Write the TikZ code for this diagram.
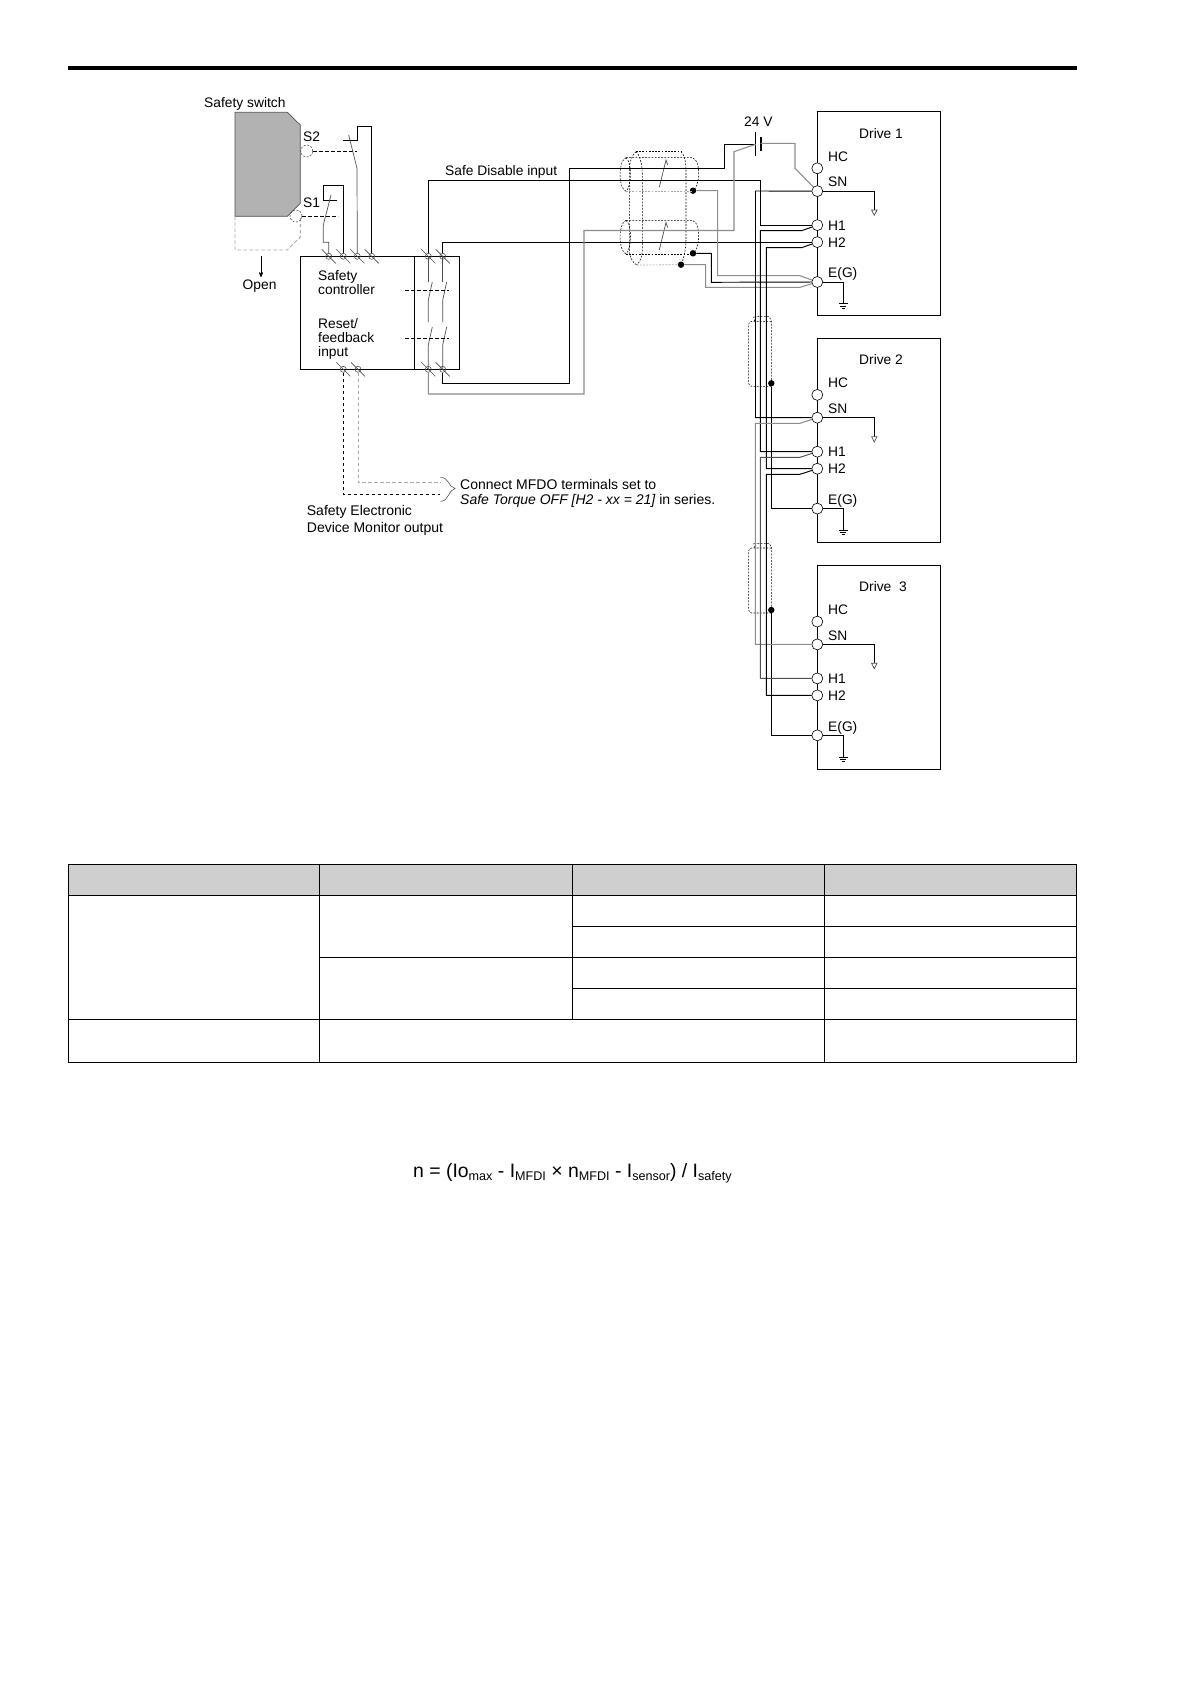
\documentclass[tikz,border=0pt]{standalone}
\usepackage{fontspec}
\setmainfont{Liberation Sans}
\usepackage{xcolor}
\usepackage{tikz}
\usetikzlibrary{arrows,arrows.meta}
\usetikzlibrary{positioning}
\usetikzlibrary{calc}
\definecolor{wiregray}{HTML}{8C8C8C}
\definecolor{darkgray}{HTML}{505050}
\definecolor{dashgray}{HTML}{A8A8A8}
\definecolor{switchgray}{HTML}{B2B2B2}
\definecolor{headgray}{HTML}{CFCFCF}
\newcommand{\lowsub}[1]{\raisebox{-2.8pt}{\fontsize{12.6}{13}\selectfont #1}}
\tikzset{
  lab/.style = {anchor=base west, inner sep=0pt, font=\fontsize{13.8}{16}\selectfont},
  wire/.style = {draw=black, line width=0.95pt},% black wire
  gwire/.style = {draw=wiregray, line width=1.05pt},% gray wire
  dwire/.style = {draw=darkgray, line width=0.95pt},
  blade/.style = {draw=darkgray, line width=0.7pt},% switch blade
  ctrl/.style = {draw=black, line width=0.8pt, dash pattern=on 3.6pt off 2.4pt},
  gctrl/.style = {draw=dashgray, line width=0.9pt, dash pattern=on 3.6pt off 2.4pt},
  shield/.style = {draw=black, line width=0.55pt, dash pattern=on 1.8pt off 1.4pt},
  gshield/.style = {draw=dashgray, line width=0.7pt, dash pattern=on 1.8pt off 1.4pt},
  term/.style = {circle, draw=darkgray, line width=0.6pt, inner sep=0pt, minimum size=6pt},
  dterm/.style = {circle, draw=black, fill=white, line width=0.6pt, inner sep=0pt, minimum size=11pt},
  bigdot/.style = {circle, fill=black, inner sep=0pt, minimum size=6.4pt},
  boxline/.style = {draw=black, line width=1pt},
  tline/.style = {draw=black, line width=0.9pt}
}

\begin{document}
\begin{tikzpicture}[x=1pt,y=-1pt,>=stealth']
\useasboundingbox (0,0) rectangle (1191,1684);
\fill[white] (0,0) rectangle (1191,1684);
\draw[line width=4.3pt] (68,68) -- (1077,68);

% safety switch
\filldraw[fill=switchgray,draw=darkgray,line width=0.7pt] (235,112.3) -- (287.3,112.3) -- (300.3,125) -- (300.3,203.3) -- (287.3,216.3) -- (235,216.3) -- cycle;
\draw[gctrl] (235,216.3) -- (235,250) -- (287.3,250) -- (300.3,237) -- (300.3,216.3);
\node[lab] (sw) at (204,107) {Safety switch};
\node[lab] (s2) at (303,141.5) {S2};
\node[lab] (s1) at (303,207.5) {S1};
\node[circle,draw=darkgray,line width=0.6pt,dash pattern=on 2pt off 1.5pt,inner sep=0pt,minimum size=12pt] (c2) at (306.7,151) {};
\node[circle,draw=darkgray,line width=0.6pt,dash pattern=on 2pt off 1.5pt,inner sep=0pt,minimum size=12pt] (c1) at (296,216) {};
\coordinate (k2) at (356.7,151);
\coordinate (k1) at (338.3,216);
\draw[ctrl] (c2) -- (k2);
\draw[ctrl] (c1) -- (k1);
\coordinate (A) at (261,256);
\coordinate (AA) at (261,277);
\draw[->,line width=0.7pt] (A) -- (AA);
\node[lab] (op) at (242.5,289) {Open};

% safety controller
\draw[boxline] (300.3,256.3) rectangle (459.3,369.3);
\draw[boxline] (414.7,256.3) -- (414.7,369.3);
\node[lab] at (318,280.5) {Safety};
\node[lab] at (318,294) {controller};
\node[lab] at (318,328) {Reset/};
\node[lab] at (318,342) {feedback};
\node[lab] at (318,356.5) {input};

\node[term] (ta) at (328.7,256.3) {};
\node[term] (tb) at (343.3,256.3) {};
\node[term] (tc) at (357.3,256.3) {};
\node[term] (td) at (371.7,256.3) {};
\node[term] (te) at (428.3,256.3) {};
\node[term] (tf) at (442.7,256.3) {};
\node[term] (tg) at (428.3,369.3) {};
\node[term] (th) at (442.7,369.3) {};
\node[term] (ti) at (343.3,369.3) {};
\node[term] (tj) at (358,369.3) {};
\foreach \t in {ta,tb,tc,td,te,tf,tg,th,ti,tj}
  \draw[blade] ([shift={(-7,-7)}]\t.center) -- ([shift={(7,7)}]\t.center);

% switches S1 and S2
\draw[wire] (tb) |- (323.7,185.7) -- (323.7,200) -- (337.3,200);
\draw[blade] (331,195) -- (323.3,225) -- (323.3,242.3) -- (328.7,242.3) -- (ta);
\draw[wire] (td) |- (357.7,126.7) -- (357.7,140.3) -- (342.7,140.3);
\draw[blade] (348.7,135) -- (357,168.3) -- (tc);

% contacts
\foreach \x in {428.3,442.7} {
  \draw[blade] (\x,256.3) -- (\x,281.5);
  \draw[blade] (\x+4,282) -- (\x,300) -- (\x,322);
  \draw[blade] (\x+4,327) -- (\x,345) -- (\x,369.3);
}
\coordinate (m1) at (405,290.3);
\coordinate (m2) at (449.3,290.3);
\coordinate (m3) at (405,338.3);
\coordinate (m4) at (449.3,338.3);
\draw[ctrl,line width=0.7pt] (m1) -- (m2);
\draw[ctrl,line width=0.7pt] (m3) -- (m4);
\node[lab] (sdi) at (445,175.5) {Safe Disable input};

% MFDO wires
\coordinate (b1) at (440,494.3);
\coordinate (b2) at (440,482.7);
\draw[ctrl] (ti) |- (b1);
\draw[gctrl] (tj) |- (b2);
\draw[darkgray,line width=0.6pt] (440.5,477.5) .. controls (449,477) and (448,487) .. (455,488.5) .. controls (448,490) and (449,501.5) .. (440.5,501.3);
\node[lab,font=\fontsize{14}{16}\selectfont] (n1) at (460,489.3) {Connect MFDO terminals set to};
\node[lab,font=\fontsize{14}{16}\selectfont] (n2) at (460,504) {\itshape Safe Torque OFF [H2 - xx = 21]\upshape{} in series.};
\node[lab,font=\fontsize{14}{16}\selectfont] (n3) at (306.7,515.5) {Safety Electronic};
\node[lab,font=\fontsize{14}{16}\selectfont] (n4) at (306.7,532.3) {Device Monitor output};

% drives
\foreach \d/\ytop/\name in {1/111.7/Drive 1,2/338.3/Drive 2,3/565/Drive\ \ 3} {
\begin{scope}[shift={(0,\ytop)}]
  \draw[boxline] (817.3,0) rectangle (940.3,204);
  \node[dterm] (hc\d) at (817.3,56.6) {};
  \node[dterm] (sn\d) at (817.3,79.4) {};
  \node[dterm] (ho\d) at (817.3,113.4) {};
  \node[dterm] (ht\d) at (817.3,130.4) {};
  \node[dterm] (eg\d) at (817.3,170.3) {};
  \node[lab] (dn\d) at (859,26.3) {\name};
  \node[lab] at (828,49.3) {HC};
  \node[lab] at (828,75) {SN};
  \node[lab] at (828,118.3) {H1};
  \node[lab] at (828,135.3) {H2};
  \node[lab] at (828,166) {E(G)};
  \coordinate (gs\d) at (874.3,98.3);
  \coordinate (ge\d) at (843.3,192);
  \draw[wire] (sn\d) -| (gs\d);
  \draw[wire] (eg\d) -| (ge\d);
  \draw[blade] (gs\d) ++(-2.7,0) -- ++(5.4,0) -- ++(-2.7,5.3) -- cycle;
  \draw[wire,line width=0.7pt] (ge\d) ++(-4.5,0) -- ++(9,0) ++(-7.5,2.2) -- ++(6,0) ++(-4.5,2.2) -- ++(3,0);
\end{scope}
}

% shields at drives 2 and 3
\foreach \d/\ytop in {2/338.3,3/565} {
\begin{scope}[shift={(0,\ytop)}]
  \node[bigdot] (dr\d) at (771.3,45) {};
  \draw[shield] (dr\d) -- (771.3,-18) -- (769,-21.6) -- (756,-21.6) -- (754,-17);
  \draw[shield,rounded corners=3pt] (771.3,48) -- (748.7,48) -- (748.7,-17) -- (771.3,-17);
  \draw[shield] (753,-21) -- (756,-21.6);
  \draw[wire] (dr\d) |- (eg\d);
\end{scope}
}

% cable shields at the switch side
\node[bigdot] (ds1) at (693,190.7) {};
\node[bigdot] (ds2) at (693,253.3) {};
\node[bigdot] (ds3) at (681,264.7) {};
\foreach \s in {0,62.6} {
\begin{scope}[shift={(0,\s)}]
  \draw[shield] (626,157.7) -- (692,157.7) .. controls (697,158) and (699,168) .. (698.7,175) .. controls (698.5,182) and (696,189) .. (693,190.7);
  \draw[shield] (626,157.7) .. controls (618,161) and (618,188) .. (626,191.3);
  \draw[shield] (626,157.7) .. controls (632,162) and (632,186) .. (626,191.3);
  \draw[blade] (659.3,187.3) -- (666,160) -- (667.7,165);
\end{scope}
}
\draw[gshield] (626,191.3) -- (693,191.3);
\draw[shield] (626,253.9) -- (693,253.9);
\draw[shield] (636,151.7) -- (681,151.7);
\draw[shield] (681,151.7) .. controls (684,154) and (686,162) .. (686,170) -- (686,240) .. controls (686,250) and (683,260) .. (ds3);
\draw[shield] (636,151.7) .. controls (632,155) and (629.3,162) .. (629.3,170) -- (629.3,250) .. controls (629.3,256) and (632,262) .. (636.7,265);
\draw[shield] (636,151.7) .. controls (640,155) and (642.3,165) .. (642.3,175) -- (642.3,250) .. controls (642.3,256) and (640,262) .. (636.7,265);
\draw[gshield] (636.7,265) -- (ds3);

% battery
\coordinate (bn) at (755.7,144.3);
\coordinate (bp) at (760.7,143.3);
\draw[wire] (755.7,132.3) -- (755.7,155.7);
\draw[line width=1.7pt] (760.7,137.3) -- (760.7,150.7);
\node[lab] (v24) at (744,126) {24 V};

% wires to drive 1
\draw[wire] (te) |- (760.3,180.3) |- (ho1);
\draw[wire] (tf) |- (ht1);
\draw[wire] (th) |- (569.3,383.3) -- (569.3,168.3) -- (724.3,168.3) -- (724.3,144.3) -- (bn);
\draw[gwire] (tg) |- (584,394) -- (584,230.5) -- (734,230.5) -- (734,151.7) -- (bn);
\draw[gwire] (bp) -- (795,143.3) -- (795,168.3) -- (sn1);
\draw[gwire] (ds1) -- (717.7,190.7) -- (717.7,275.7) -- (800,275.7) -- (eg1);
\draw[wire] (ds2) -- (711.3,253.3) -- (711.3,282.3) -- (eg1);
\draw[gwire] (ds3) -- (705.7,264.7) -- (705.7,287.3) -- (800,287.3) -- (eg1);

% daisy chain
\draw[wire] (sn1) -- (755.5,191) |- (sn2);
\draw[wire] (ho1) -- (801.7,230.7) -- (760.3,230.7) |- (ho2);
\draw[wire] (ht1) -- (801.7,247.7) -- (766.3,247.7) |- (ht2);
\draw[gwire] (sn2) -- (800,423.3) -- (755.3,423.3) |- (sn3);
\draw[dwire] (ho2) -- (800,457.3) -- (760.3,457.3) |- (ho3);
\draw[wire] (ht2) -- (800,474.3) -- (766.3,474.3) |- (ht3);

% table
\fill[headgray] (68.7,864.3) rectangle (1076.3,895.3);
\draw[tline] (68.7,864.3) rectangle (1076.3,1062.3);
\draw[tline] (68.7,895.3) -- (1076.3,895.3);
\draw[tline] (68.7,1019.3) -- (1076.3,1019.3);
\draw[tline] (319.3,864.3) -- (319.3,1062.3);
\draw[tline] (572.3,864.3) -- (572.3,1019.3);
\draw[tline] (824.3,864.3) -- (824.3,1062.3);
\draw[tline] (319.3,957.3) -- (1076.3,957.3);
\draw[tline] (572.3,926.3) -- (1076.3,926.3);
\draw[tline] (572.3,988.3) -- (1076.3,988.3);

\node[lab,font=\fontsize{19.4}{22}\selectfont] (frm) at (413,1177.7) {n = (Io\lowsub{max} - I\lowsub{MFDI} × n\lowsub{MFDI} - I\lowsub{sensor}) / I\lowsub{safety}};
\end{tikzpicture}
\end{document}
